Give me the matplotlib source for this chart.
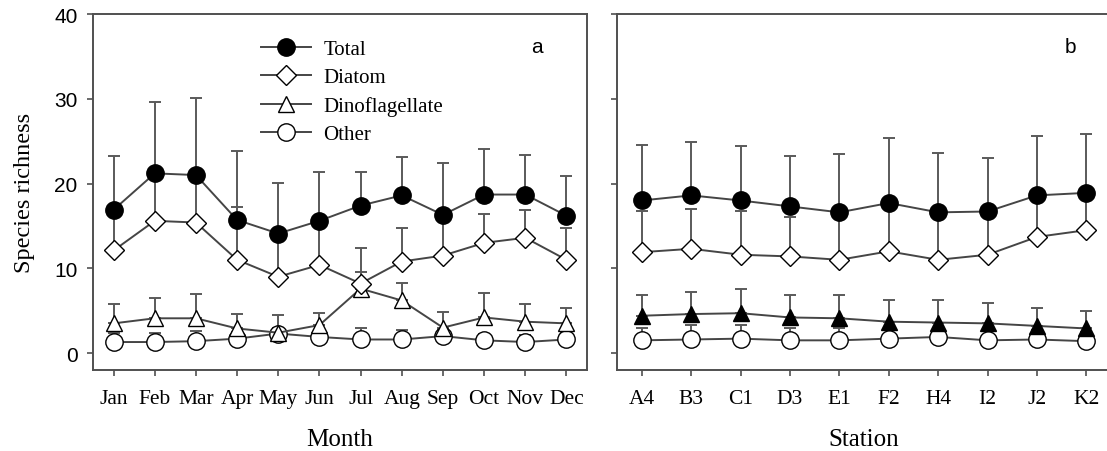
import numpy as np
import matplotlib
matplotlib.use('Agg')
import matplotlib.pyplot as plt

plt.rcParams['font.family'] = ['Liberation Serif', 'DejaVu Serif']

# --- data: mean species richness and upper SD ---
months = ['Jan', 'Feb', 'Mar', 'Apr', 'May', 'Jun', 'Jul', 'Aug', 'Sep', 'Oct', 'Nov', 'Dec']
stations = ['A4', 'B3', 'C1', 'D3', 'E1', 'F2', 'H4', 'I2', 'J2', 'K2']

month_total = [16.9, 21.2, 21.0, 15.7, 14.1, 15.6, 17.4, 18.6, 16.3, 18.7, 18.7, 16.2]
month_total_sd = [6.3, 8.4, 9.1, 8.1, 6.0, 5.8, 4.0, 4.5, 6.1, 5.4, 4.7, 4.7]
month_diatom = [12.1, 15.6, 15.4, 11.0, 9.0, 10.4, 8.2, 10.8, 11.5, 13.0, 13.6, 11.0]
month_diatom_sd = [4.6, 5.0, 5.3, 6.2, 4.5, 5.0, 4.2, 4.0, 4.6, 3.4, 3.3, 3.8]
month_dino = [3.5, 4.1, 4.1, 2.9, 2.4, 3.3, 7.6, 6.2, 3.0, 4.2, 3.7, 3.5]
month_dino_sd = [2.3, 2.4, 2.9, 1.7, 2.1, 1.4, 2.0, 2.1, 1.8, 2.9, 2.1, 1.8]
month_other = [1.3, 1.3, 1.4, 1.7, 2.3, 1.9, 1.6, 1.6, 2.0, 1.5, 1.3, 1.6]
month_other_sd = [1.1, 1.1, 1.2, 0.8, 0.6, 0.8, 1.4, 1.1, 0.8, 0.8, 0.8, 0.8]

station_total = [18.0, 18.6, 18.0, 17.3, 16.6, 17.7, 16.6, 16.7, 18.6, 18.9]
station_total_sd = [6.6, 6.3, 6.4, 5.9, 6.9, 7.7, 7.0, 6.3, 7.0, 6.9]
station_diatom = [11.9, 12.3, 11.6, 11.4, 11.0, 12.0, 11.0, 11.6, 13.7, 14.5]
station_diatom_sd = [4.9, 4.7, 5.1, 4.7, 5.0, 5.0, 5.0, 4.6, 4.5, 4.0]
station_dino = [4.4, 4.6, 4.7, 4.2, 4.1, 3.7, 3.6, 3.5, 3.2, 2.9]
station_dino_sd = [2.4, 2.6, 2.8, 2.6, 2.8, 2.6, 2.7, 2.4, 2.1, 2.1]
station_other = [1.5, 1.6, 1.7, 1.5, 1.5, 1.7, 1.9, 1.5, 1.6, 1.4]
station_other_sd = [1.4, 1.7, 1.6, 1.4, 1.4, 1.2, 1.1, 1.2, 1.1, 1.1]

LINE = '#454545'
ERR = '#5a5a5a'
SPINE = '#505050'
SANS = ['Liberation Sans', 'DejaVu Sans']


def draw_series(ax, x, y, sd, marker, face, label, ms):
    y = np.array(y)
    sd = np.array(sd)
    ax.errorbar(x, y, yerr=[np.zeros_like(sd), sd], fmt='none', ecolor=ERR,
                elinewidth=1.4, capsize=4, capthick=1.4, zorder=2)
    ax.plot(x, y, color=LINE, lw=1.4, marker=marker, ms=ms, mfc=face,
            mec='black', mew=1.0, label=label, zorder=3)


def style_axis(ax, labels, xlabel, show_ylabels):
    ax.set_xlim(0.5, len(labels) + 0.5)
    ax.set_ylim(-2, 40)
    ax.set_xticks(np.arange(1, len(labels) + 1))
    ax.set_xticklabels(labels, fontsize=15.5)
    ax.set_yticks([0, 10, 20, 30, 40])
    if show_ylabels:
        ax.set_yticklabels(['0', '10', '20', '30', '40'], fontsize=15, family=SANS)
    else:
        ax.set_yticklabels([])
    ax.tick_params(direction='out', length=4, width=1.2, color=SPINE)
    ax.tick_params(axis='x', pad=10)
    ax.tick_params(axis='y', pad=7)
    for s in ax.spines.values():
        s.set_color(SPINE)
        s.set_linewidth(1.4)
    ax.set_xlabel(xlabel, fontsize=18, labelpad=14)


fig = plt.figure(figsize=(11.07, 4.52), dpi=100)
ax1 = fig.add_axes([0.0840, 0.1792, 0.4463, 0.7876])
ax2 = fig.add_axes([0.5574, 0.1792, 0.4463, 0.7876])

# monthly panel
x1 = np.arange(1, len(months) + 1)
draw_series(ax1, x1, month_other, month_other_sd, 'o', 'white', 'Other', 12.5)
draw_series(ax1, x1, month_dino, month_dino_sd, '^', 'white', 'Dinoflagellate', 12)
draw_series(ax1, x1, month_diatom, month_diatom_sd, 'D', 'white', 'Diatom', 9.7)
draw_series(ax1, x1, month_total, month_total_sd, 'o', 'black', 'Total', 12.5)
style_axis(ax1, months, 'Month', True)
ax1.set_ylabel('Species richness', fontsize=17.5, labelpad=14)
ax1.text(0.899, 0.91, 'a', transform=ax1.transAxes, fontsize=15,
         family=SANS, ha='center', va='center')

handles, labels = ax1.get_legend_handles_labels()
ax1.legend(handles[::-1], labels[::-1], loc='upper left', bbox_to_anchor=(0.324, 0.951),
           frameon=False, fontsize=15, handlelength=2.4, labelspacing=0.41,
           handletextpad=0.58, borderaxespad=0)

# station panel
x2 = np.arange(1, len(stations) + 1)
draw_series(ax2, x2, station_other, station_other_sd, 'o', 'white', 'Other', 12.5)
draw_series(ax2, x2, station_dino, station_dino_sd, '^', 'black', 'Dinoflagellate', 12)
draw_series(ax2, x2, station_diatom, station_diatom_sd, 'D', 'white', 'Diatom', 9.7)
draw_series(ax2, x2, station_total, station_total_sd, 'o', 'black', 'Total', 12.5)
style_axis(ax2, stations, 'Station', False)
ax2.text(0.917, 0.91, 'b', transform=ax2.transAxes, fontsize=15,
         family=SANS, ha='center', va='center')

fig.savefig('out.png', dpi=100)
